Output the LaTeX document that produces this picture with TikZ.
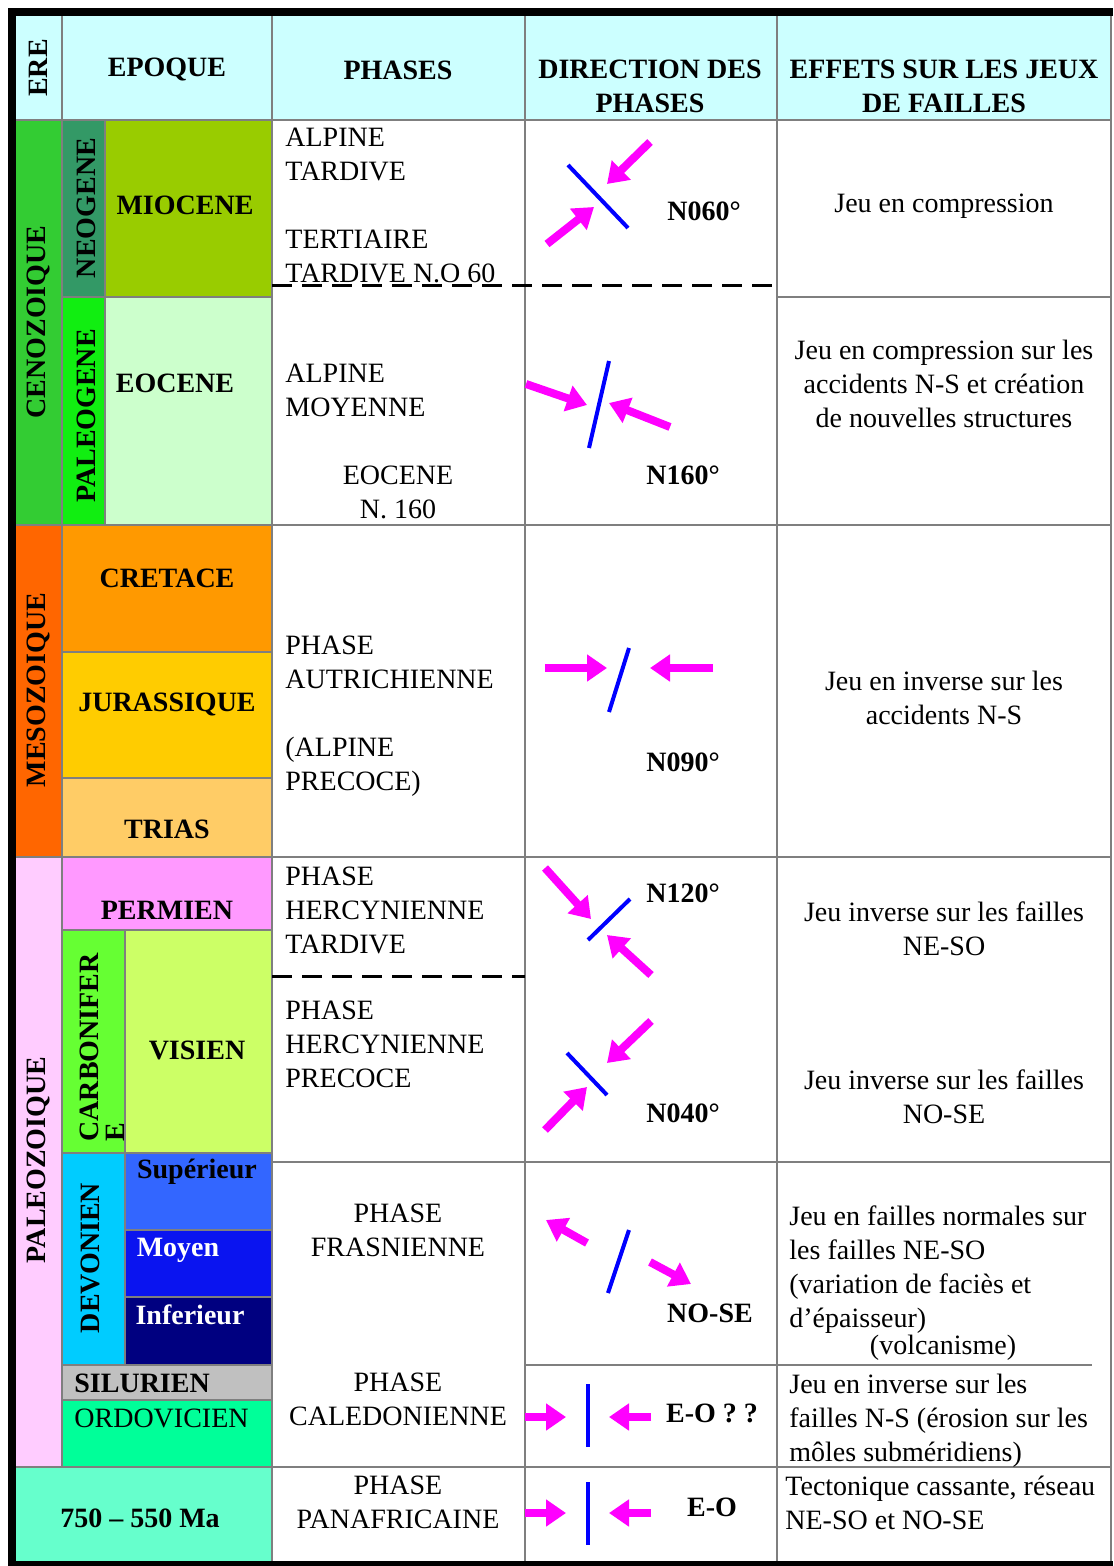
\documentclass[tikz,border=0pt]{standalone}
\usepackage{fontspec}
\setmainfont{Liberation Serif}
\usetikzlibrary{arrows.meta}
\definecolor{hdr}{HTML}{CCFFFF}
\definecolor{cenoz}{HTML}{33CC33}
\definecolor{neog}{HTML}{339966}
\definecolor{mioc}{HTML}{99CC00}
\definecolor{paleog}{HTML}{11EE11}
\definecolor{eoc}{HTML}{CCFFCC}
\definecolor{mesoz}{HTML}{FF6600}
\definecolor{cret}{HTML}{FF9900}
\definecolor{jura}{HTML}{FFCC00}
\definecolor{trias}{HTML}{FFCC66}
\definecolor{paleoz}{HTML}{FFCCFF}
\definecolor{perm}{HTML}{FF99FF}
\definecolor{carb}{HTML}{66FF33}
\definecolor{visi}{HTML}{CCFF66}
\definecolor{devo}{HTML}{00CCFF}
\definecolor{supe}{HTML}{3366FF}
\definecolor{moye}{HTML}{0A14F0}
\definecolor{infe}{HTML}{000080}
\definecolor{silu}{HTML}{C0C0C0}
\definecolor{ordo}{HTML}{00FF99}
\definecolor{preca}{HTML}{66FFCC}
\definecolor{gridgray}{HTML}{7F7F7F}
\definecolor{pushpink}{HTML}{FF00FF}
\definecolor{faultblue}{HTML}{0000FF}
\begin{document}
\begin{tikzpicture}[x=0.5pt,y=-0.5pt,
  txt/.style={font=\fontsize{14}{17}\selectfont,inner sep=0pt,align=left},
  bf/.style={font=\fontsize{14}{17}\selectfont\bfseries,inner sep=0pt},
  gridline/.style={draw=gridgray,line width=1pt},
  cut/.style={draw=black,line width=1.5pt,dash pattern=on 10pt off 5pt},
  push/.style={draw=pushpink,line width=4pt,-{Triangle[length=10pt,width=13pt]}},
  fault/.style={draw=faultblue,line width=2pt}]
\useasboundingbox (0,0) rectangle (1113,1566);
\fill[hdr] (16,16) rectangle (1111,120);
\fill[cenoz] (16,120) rectangle (62,525);
\fill[neog] (62,120) rectangle (105,297);
\fill[mioc] (105,120) rectangle (272,297);
\fill[paleog] (62,297) rectangle (105,525);
\fill[eoc] (105,297) rectangle (272,525);
\fill[mesoz] (16,525) rectangle (62,857);
\fill[cret] (62,525) rectangle (272,652);
\fill[jura] (62,652) rectangle (272,778);
\fill[trias] (62,778) rectangle (272,857);
\fill[paleoz] (16,857) rectangle (62,1467);
\fill[perm] (62,857) rectangle (272,930);
\fill[carb] (62,930) rectangle (125,1153);
\fill[visi] (125,930) rectangle (272,1153);
\fill[devo] (62,1153) rectangle (125,1365);
\fill[supe] (125,1153) rectangle (272,1230);
\fill[moye] (125,1230) rectangle (272,1297);
\fill[infe] (125,1297) rectangle (272,1365);
\fill[silu] (62,1365) rectangle (272,1400);
\fill[ordo] (62,1400) rectangle (272,1467);
\fill[preca] (16,1467) rectangle (272,1562);
\draw[gridline] (62,16)--(62,1467);
\draw[gridline] (105,120)--(105,525);
\draw[gridline] (125,930)--(125,1365);
\draw[gridline] (272,16)--(272,1562);
\draw[gridline] (525,16)--(525,1562);
\draw[gridline] (777,16)--(777,1562);
\draw[gridline] (1111,16)--(1111,1562);
\draw[gridline] (16,120)--(1111,120);
\draw[gridline] (62,297)--(272,297);\draw[gridline] (777,297)--(1111,297);
\draw[gridline] (16,525)--(1111,525);
\draw[gridline] (62,652)--(272,652);\draw[gridline] (62,778)--(272,778);
\draw[gridline] (16,857)--(1111,857);
\draw[gridline] (62,930)--(272,930);\draw[gridline] (62,1153)--(272,1153);
\draw[gridline] (272,1162)--(1111,1162);
\draw[gridline] (125,1230)--(272,1230);\draw[gridline] (125,1297)--(272,1297);
\draw[gridline] (62,1365)--(272,1365);\draw[gridline] (525,1365)--(1092,1365);
\draw[gridline] (62,1400)--(272,1400);
\draw[gridline] (16,1467)--(1111,1467);
\draw[cut] (272,286)--(777,286);
\draw[cut] (272,976)--(525,976);
\fill[black] (8,8) rectangle (1113,16);
\fill[black] (8,8) rectangle (16,1566);
\fill[black] (8,1561) rectangle (1113,1566);
\node[bf,rotate=90] (ere) at (38,68) {ERE};
\node[bf] (epoque) at (167,70) {EPOQUE};
\node[bf] (phases) at (398,70) {PHASES};
\node[bf,align=center] (direction) at (650,86) {DIRECTION DES\\PHASES};
\node[bf,align=center] (effets) at (944,86) {EFFETS SUR LES JEUX\\DE FAILLES};
\node[bf,rotate=90] (cenozoique) at (38,322) {CENOZOIQUE};
\node[bf,rotate=90] (neogene) at (86,208) {NEOGENE};
\node[bf] (miocene) at (185,205) {MIOCENE};
\node[bf,rotate=90] (paleogene) at (86,416) {PALEOGENE};
\node[bf] (eocene) at (175,383) {EOCENE};
\node[bf,rotate=90] (mesozoique) at (38,690) {MESOZOIQUE};
\node[bf] (cretace) at (167,578) {CRETACE};
\node[bf] (jurassique) at (167,704) {JURASSIQUE};
\node[bf] (triasnode) at (167,829) {TRIAS};
\node[bf,rotate=90] (paleozoique) at (38,1160) {PALEOZOIQUE};
\node[bf] (permien) at (167,910) {PERMIEN};
\node[bf,rotate=90,align=left,font=\fontsize{14}{13}\selectfont\bfseries,anchor=north west] (carbonifere) at (80,1142) {CARBONIFER\\E};
\node[bf] (visien) at (197,1050) {VISIEN};
\node[bf,rotate=90] (devonien) at (90,1258) {DEVONIEN};
\node[bf] (superieur) at (197,1172) {Supérieur};
\node[bf,white] (moyen) at (178,1250) {Moyen};
\node[bf,white] (inferieur) at (190,1315) {Inferieur};
\node[bf,anchor=west] (silurien) at (74,1383) {SILURIEN};
\node[txt,anchor=west] (ordovicien) at (74,1418) {ORDOVICIEN};
\node[bf] (panaf) at (140,1518) {750 – 550 Ma};
\node[txt,anchor=north west] (ph1) at (285,128) {ALPINE\\TARDIVE\\[17pt]TERTIAIRE\\TARDIVE N.O 60};
\node[txt,anchor=north west] (ph2) at (285,364) {ALPINE\\MOYENNE};
\node[txt,align=center,anchor=north] (ph3) at (398,466) {EOCENE\\N. 160};
\node[txt,anchor=north west] (ph4) at (285,636) {PHASE\\AUTRICHIENNE\\[17pt](ALPINE\\PRECOCE)};
\node[txt,anchor=north west] (ph5) at (285,867) {PHASE\\HERCYNIENNE\\TARDIVE};
\node[txt,anchor=north west] (ph6) at (285,1001) {PHASE\\HERCYNIENNE\\PRECOCE};
\node[txt,align=center,anchor=north] (ph7) at (398,1204) {PHASE\\FRASNIENNE};
\node[txt,align=center,anchor=north] (ph8) at (398,1373) {PHASE\\CALEDONIENNE};
\node[txt,align=center,anchor=north] (ph9) at (398,1476) {PHASE\\PANAFRICAINE};
\draw[fault] (568,165)--(628,228);
\draw[push] (650,142)--(607,184);
\draw[push] (547,244)--(594,207);
\node[bf] (dir1) at (704,211) {N060°};
\draw[fault] (609,361)--(589,448);
\draw[push] (526,384)--(587,405);
\draw[push] (670,427)--(609,403);
\node[bf] (dir2) at (683,475) {N160°};
\draw[fault] (629,648)--(609,712);
\draw[push] (545,668)--(607,668);
\draw[push] (713,668)--(650,668);
\node[bf] (dir3) at (683,762) {N090°};
\draw[fault] (630,899)--(588,940);
\draw[push] (545,868)--(591,919);
\draw[push] (651,975)--(607,935);
\node[bf] (dir4) at (683,893) {N120°};
\draw[fault] (567,1053)--(607,1095);
\draw[push] (651,1021)--(607,1063);
\draw[push] (545,1130)--(587,1087);
\node[bf] (dir5) at (683,1113) {N040°};
\draw[fault] (629,1230)--(608,1293);
\draw[push] (587,1243)--(546,1220);
\draw[push] (650,1262)--(691,1284);
\node[bf] (dir6) at (710,1313) {NO-SE};
\draw[fault] (588,1384)--(588,1447);
\draw[push] (525,1417)--(566,1417);
\draw[push] (651,1417)--(609,1417);
\node[bf] (dir7) at (712,1413) {E-O ? ?};
\draw[fault] (588,1482)--(588,1545);
\draw[push] (525,1513)--(566,1513);
\draw[push] (651,1513)--(609,1513);
\node[bf] (dir8) at (712,1507) {E-O};
\node[txt] (eff1) at (944,206) {Jeu en compression};
\node[txt,align=center,anchor=north] (eff2) at (944,340) {Jeu en compression sur les\\accidents N-S et création\\de nouvelles structures};
\node[txt,align=center,anchor=north] (eff3) at (944,671) {Jeu en inverse sur les\\accidents N-S};
\node[txt,align=center,anchor=north] (eff4) at (944,901) {Jeu inverse sur les failles\\NE-SO};
\node[txt,align=center,anchor=north] (eff5) at (944,1069) {Jeu inverse sur les failles\\NO-SE};
\node[txt,anchor=north west] (eff6) at (789,1205) {Jeu en failles normales sur\\les failles NE-SO\\(variation de faciès et\\d’épaisseur)};
\node[txt] (eff6b) at (943,1348) {(volcanisme)};
\node[txt,anchor=north west] (eff7) at (789,1374) {Jeu en inverse sur les\\failles N-S (érosion sur les\\môles subméridiens)};
\node[txt,anchor=north west] (eff8) at (785,1476) {Tectonique cassante, réseau\\NE-SO et NO-SE};
\end{tikzpicture}
\end{document}
